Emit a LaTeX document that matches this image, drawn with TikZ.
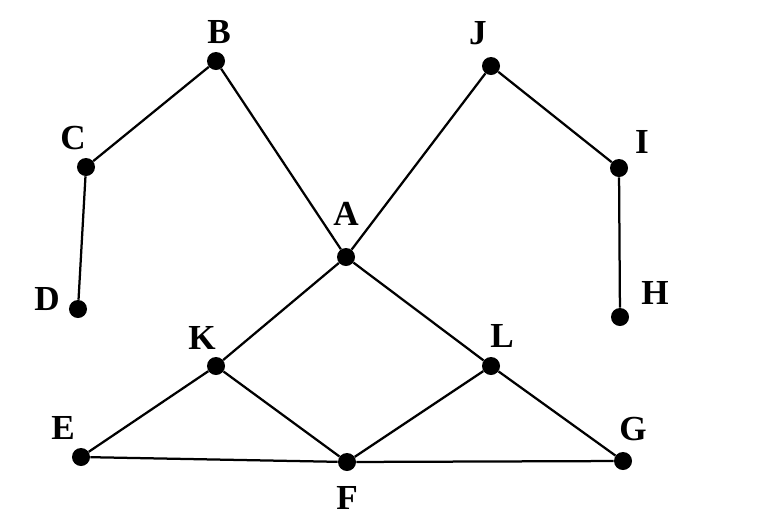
\documentclass[tikz,border=0pt]{standalone}
\usepackage{fontspec}
\setmainfont{Liberation Serif}
\tikzset{
  dot/.style={circle,fill=black,inner sep=0pt,minimum size=0.45cm},
  lbl/.style={inner sep=0pt,font=\fontsize{25}{29}\selectfont\bfseries},
  edge/.style={line width=1.6pt}
}
\begin{document}
\begin{tikzpicture}[x=0.025cm,y=-0.025cm]
\useasboundingbox (0,0) rectangle (764,528);
\node[dot] (B) at (216,61) {};
\node[dot] (C) at (86,167) {};
\node[dot] (D) at (78,309) {};
\node[dot] (J) at (491,66) {};
\node[dot] (I) at (619,168) {};
\node[dot] (H) at (620,317) {};
\node[dot] (A) at (346,257) {};
\node[dot] (K) at (216,366) {};
\node[dot] (L) at (491,366) {};
\node[dot] (E) at (81,457) {};
\node[dot] (F) at (347,462) {};
\node[dot] (G) at (623,461) {};
\node[lbl] (tB) at (219,32) {B};
\node[lbl] (tC) at (73,138) {C};
\node[lbl] (tD) at (47,299) {D};
\node[lbl] (tJ) at (478,33) {J};
\node[lbl] (tI) at (642,142) {I};
\node[lbl] (tH) at (655,293) {H};
\node[lbl] (tA) at (346,214) {A};
\node[lbl] (tK) at (202,338) {K};
\node[lbl] (tL) at (502,336) {L};
\node[lbl] (tE) at (63,428) {E};
\node[lbl] (tF) at (347,498) {F};
\node[lbl] (tG) at (633,429) {G};
\draw[edge] (B) -- (C) -- (D);
\draw[edge] (B) -- (A);
\draw[edge] (J) -- (A);
\draw[edge] (J) -- (I) -- (H);
\draw[edge] (A) -- (K) -- (E);
\draw[edge] (A) -- (L) -- (G);
\draw[edge] (K) -- (F) -- (L);
\draw[edge] (E) -- (F) -- (G);
\end{tikzpicture}
\end{document}
